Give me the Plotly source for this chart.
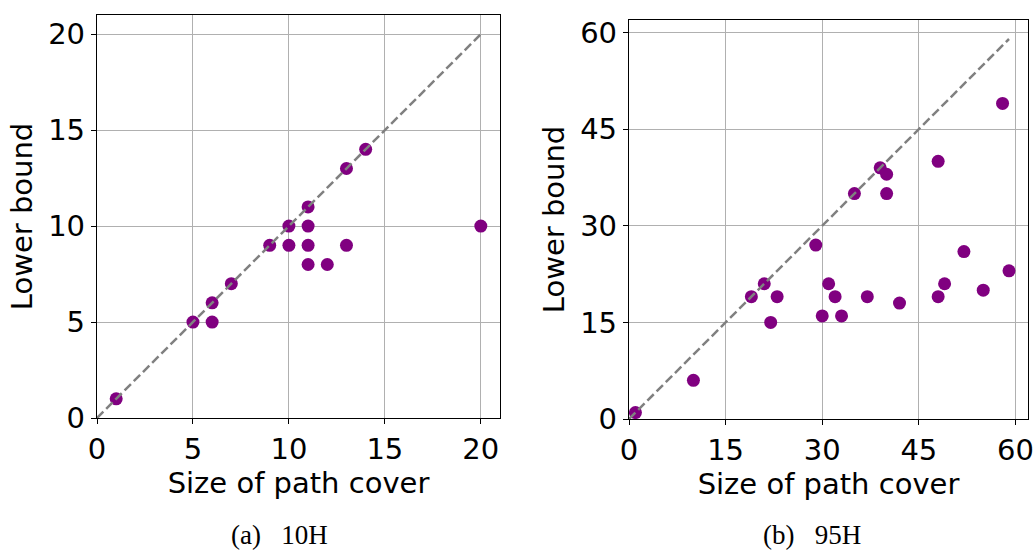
import plotly.graph_objects as go

# (a) 10H data
a_cover = [1, 5, 6, 6, 7, 9, 10, 10, 11, 11, 11, 11, 12, 13, 13, 14, 20]
a_lower = [1, 5, 5, 6, 7, 9, 9, 10, 9, 10, 11, 8, 8, 9, 13, 14, 10]
a_diag = [0, 20]

# (b) 95H data
b_cover = [1, 10, 19, 21, 23, 22, 29, 30, 31, 32, 33, 35, 37, 39, 40, 40, 42,
           48, 48, 49, 52, 55, 58, 59]
b_lower = [1, 6, 19, 21, 19, 15, 27, 16, 21, 19, 16, 35, 19, 39, 38, 35, 18,
           40, 19, 21, 26, 20, 49, 23]
b_diag = [0, 59]

a_ticks = [0, 5, 10, 15, 20]
b_ticks = [0, 15, 30, 45, 60]

x_title = "Size of path cover"
y_title = "Lower bound"
captions = ["(a)\u00a0\u00a0\u00a010H", "(b)\u00a0\u00a0\u00a095H"]

PURPLE = "#800080"
GRAY = "#808080"
FONT = "DejaVu Sans"
FS = 29

fig = go.Figure()

fig.add_trace(go.Scatter(x=a_cover, y=a_lower, mode="markers",
                         marker=dict(color=PURPLE, size=13, line=dict(width=0)),
                         xaxis="x", yaxis="y", showlegend=False))
fig.add_trace(go.Scatter(x=a_diag, y=a_diag, mode="lines",
                         line=dict(color=GRAY, width=2.5, dash="9px,4px"),
                         xaxis="x", yaxis="y", showlegend=False))
fig.add_trace(go.Scatter(x=b_cover, y=b_lower, mode="markers",
                         marker=dict(color=PURPLE, size=13, line=dict(width=0)),
                         xaxis="x2", yaxis="y2", showlegend=False))
fig.add_trace(go.Scatter(x=b_diag, y=b_diag, mode="lines",
                         line=dict(color=GRAY, width=2.5, dash="9px,4px"),
                         xaxis="x2", yaxis="y2", showlegend=False))

W, H = 1035, 552

def axis_common(ticks, rng):
    return dict(range=rng, tickvals=ticks, ticks="outside", ticklen=5, tickwidth=1.2,
                tickcolor="black", showline=True, linecolor="black", linewidth=1.3,
                mirror=True, showgrid=True, gridcolor="#b0b0b0", gridwidth=1,
                zeroline=False, automargin=False,
                tickfont=dict(family=FONT, size=FS, color="black"),
                title=dict(font=dict(family=FONT, size=FS, color="black")))

xa = axis_common(a_ticks, [0, 21])
xa.update(domain=[97 / W, 500 / W], anchor="y")
xa["title"].update(text=x_title, standoff=2)
ya = axis_common(a_ticks, [0, 21])
ya.update(domain=[1 - 418 / H, 1 - 15 / H], anchor="x")
ya["title"].update(text=y_title, standoff=6)

xb = axis_common(b_ticks, [0, 61.95])
xb.update(domain=[629 / W, 1028 / W], anchor="y2")
xb["title"].update(text=x_title, standoff=2)
yb = axis_common(b_ticks, [0, 61.95])
yb.update(domain=[1 - 419 / H, 1 - 20 / H], anchor="x2")
yb["title"].update(text=y_title, standoff=6)

fig.update_layout(
    width=W, height=H,
    margin=dict(l=0, r=0, t=0, b=0),
    paper_bgcolor="white", plot_bgcolor="white",
    xaxis=xa, yaxis=ya, xaxis2=xb, yaxis2=yb,
    annotations=[
        dict(text=captions[0], x=279 / W, y=1 - 535 / H, xref="paper", yref="paper",
             showarrow=False, xanchor="center", yanchor="middle",
             font=dict(family="Liberation Serif", size=27, color="black")),
        dict(text=captions[1], x=812 / W, y=1 - 535 / H, xref="paper", yref="paper",
             showarrow=False, xanchor="center", yanchor="middle",
             font=dict(family="Liberation Serif", size=27, color="black")),
    ],
)

fig.write_html("out.html", config={"displayModeBar": False},
               post_script="document.body.style.margin='0';document.body.style.overflow='hidden';")
